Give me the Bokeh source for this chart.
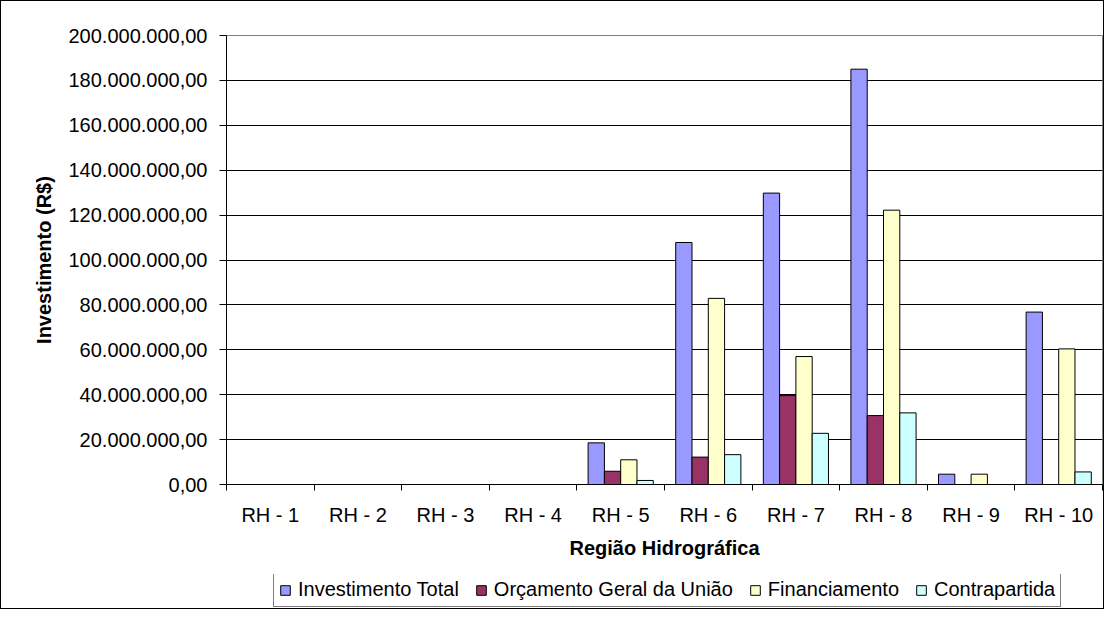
from bokeh.plotting import figure
from bokeh.layouts import column
from bokeh.models import Range1d, FixedTicker, Legend, LegendItem, ColumnDataSource
from bokeh.transform import dodge
from bokeh.embed import file_html
from bokeh.resources import INLINE

# ---- data ----
categories = ["RH - 1", "RH - 2", "RH - 3", "RH - 4", "RH - 5",
              "RH - 6", "RH - 7", "RH - 8", "RH - 9", "RH - 10"]
investimento_total = [0, 0, 0, 0, 18.55e6, 107.8e6, 129.8e6, 185.0e6, 4.6e6, 76.8e6]
orcamento_geral = [0, 0, 0, 0, 5.9e6, 12.2e6, 39.6e6, 30.7e6, 0, 0]
financiamento = [0, 0, 0, 0, 11.0e6, 82.9e6, 57.0e6, 122.2e6, 4.6e6, 60.4e6]
contrapartida = [0, 0, 0, 0, 1.8e6, 13.3e6, 22.8e6, 31.9e6, 0, 5.6e6]

series_names = ["Investimento Total", "Orçamento Geral da União", "Financiamento", "Contrapartida"]
series_keys = ["inv", "orc", "fin", "con"]
series_colors = ["#9999FF", "#993366", "#FFFFCC", "#CCFFFF"]

y_ticks = [0, 20000000, 40000000, 60000000, 80000000, 100000000,
           120000000, 140000000, 160000000, 180000000, 200000000]
y_tick_labels = ["0,00", "20.000.000,00", "40.000.000,00", "60.000.000,00",
                 "80.000.000,00", "100.000.000,00", "120.000.000,00",
                 "140.000.000,00", "160.000.000,00", "180.000.000,00",
                 "200.000.000,00"]

FONT = "Liberation Sans"
FS = "20px"

x_pos = [i + 0.5 for i in range(len(categories))]
source = ColumnDataSource(data=dict(
    x=x_pos, cat=categories,
    inv=investimento_total, orc=orcamento_geral,
    fin=financiamento, con=contrapartida,
))

fig = figure(width=1102, height=573,
             x_range=Range1d(0, len(categories)), y_range=Range1d(0, 200e6),
             output_backend="svg", toolbar_location=None,
             min_border_left=225, min_border_right=1,
             min_border_top=34, min_border_bottom=90)

fig.background_fill_color = "white"
fig.border_fill_color = "white"
fig.outline_line_color = "#808080"
fig.outline_line_width = 1

bw = 0.186
for k, (key, col) in enumerate(zip(series_keys, series_colors)):
    fig.vbar(x=dodge("x", (k - 1.5) * bw, range=fig.x_range), top=key, width=bw,
             source=source, fill_color=col, line_color="black", line_width=1)

# grid
fig.xgrid.visible = False
fig.ygrid.ticker = FixedTicker(ticks=y_ticks[1:-1])
fig.ygrid.grid_line_color = "black"
fig.ygrid.grid_line_width = 1

# y axis
ya = fig.yaxis[0]
ya.ticker = FixedTicker(ticks=y_ticks)
ya.major_label_overrides = dict(zip(y_ticks, y_tick_labels))
ya.axis_line_color = "black"
ya.major_tick_line_color = "black"
ya.major_tick_out = 7
ya.major_tick_in = 0
ya.minor_tick_line_color = None
ya.major_label_text_font = FONT
ya.major_label_text_font_size = FS
ya.major_label_text_color = "black"
ya.major_label_standoff = 12
ya.axis_label = "Investimento (R$)"
ya.axis_label_text_font = FONT
ya.axis_label_text_font_size = FS
ya.axis_label_text_font_style = "bold"
ya.axis_label_text_color = "black"
ya.axis_label_standoff = 10

# x axis
xa = fig.xaxis[0]
xa.ticker = FixedTicker(ticks=x_pos, minor_ticks=list(range(len(categories) + 1)))
xa.major_label_overrides = dict(zip(x_pos, categories))
xa.axis_line_color = "black"
xa.major_tick_line_color = None
xa.major_tick_out = 0
xa.major_tick_in = 0
xa.minor_tick_line_color = "black"
xa.minor_tick_out = 6
xa.minor_tick_in = 0
xa.major_label_text_font = FONT
xa.major_label_text_font_size = FS
xa.major_label_text_color = "black"
xa.major_label_standoff = 13
xa.axis_label = "Região Hidrográfica"
xa.axis_label_text_font = FONT
xa.axis_label_text_font_size = FS
xa.axis_label_text_font_style = "bold"
xa.axis_label_text_color = "black"
xa.axis_label_standoff = 8

# legend strip (separate figure so the legend is not clipped)
leg_fig = figure(width=1102, height=34, x_range=Range1d(0, 1), y_range=Range1d(0, 1),
                 output_backend="svg", toolbar_location=None, min_border=0,
                 x_axis_location=None, y_axis_location=None)
leg_fig.outline_line_color = None
leg_fig.grid.visible = False
leg_fig.background_fill_color = "white"
leg_fig.border_fill_color = "white"
# proxy renderers (kept outside the visible range) that only supply legend swatches
leg_src = ColumnDataSource(data=dict(x=[-10.0], top=[0.0]))
leg_renderers = [leg_fig.vbar(x="x", top="top", width=0.1, source=leg_src,
                              fill_color=c, line_color="black", line_width=1)
                 for c in series_colors]

legend = Legend(
    items=[LegendItem(label=n, renderers=[r]) for n, r in zip(series_names, leg_renderers)],
    orientation="horizontal", location=(47, 1),
    label_text_font=FONT, label_text_font_size=FS, label_text_color="black",
    glyph_width=12, glyph_height=12, label_standoff=7, spacing=16,
    padding=5, margin=0,
    border_line_color="black", border_line_width=1,
    background_fill_color="white", background_fill_alpha=1.0,
)
leg_fig.add_layout(legend, "center")

p = column(fig, leg_fig, spacing=0)
p.styles = {"border": "1px solid black"}

open("out.html", "w").write(file_html(p, INLINE))
